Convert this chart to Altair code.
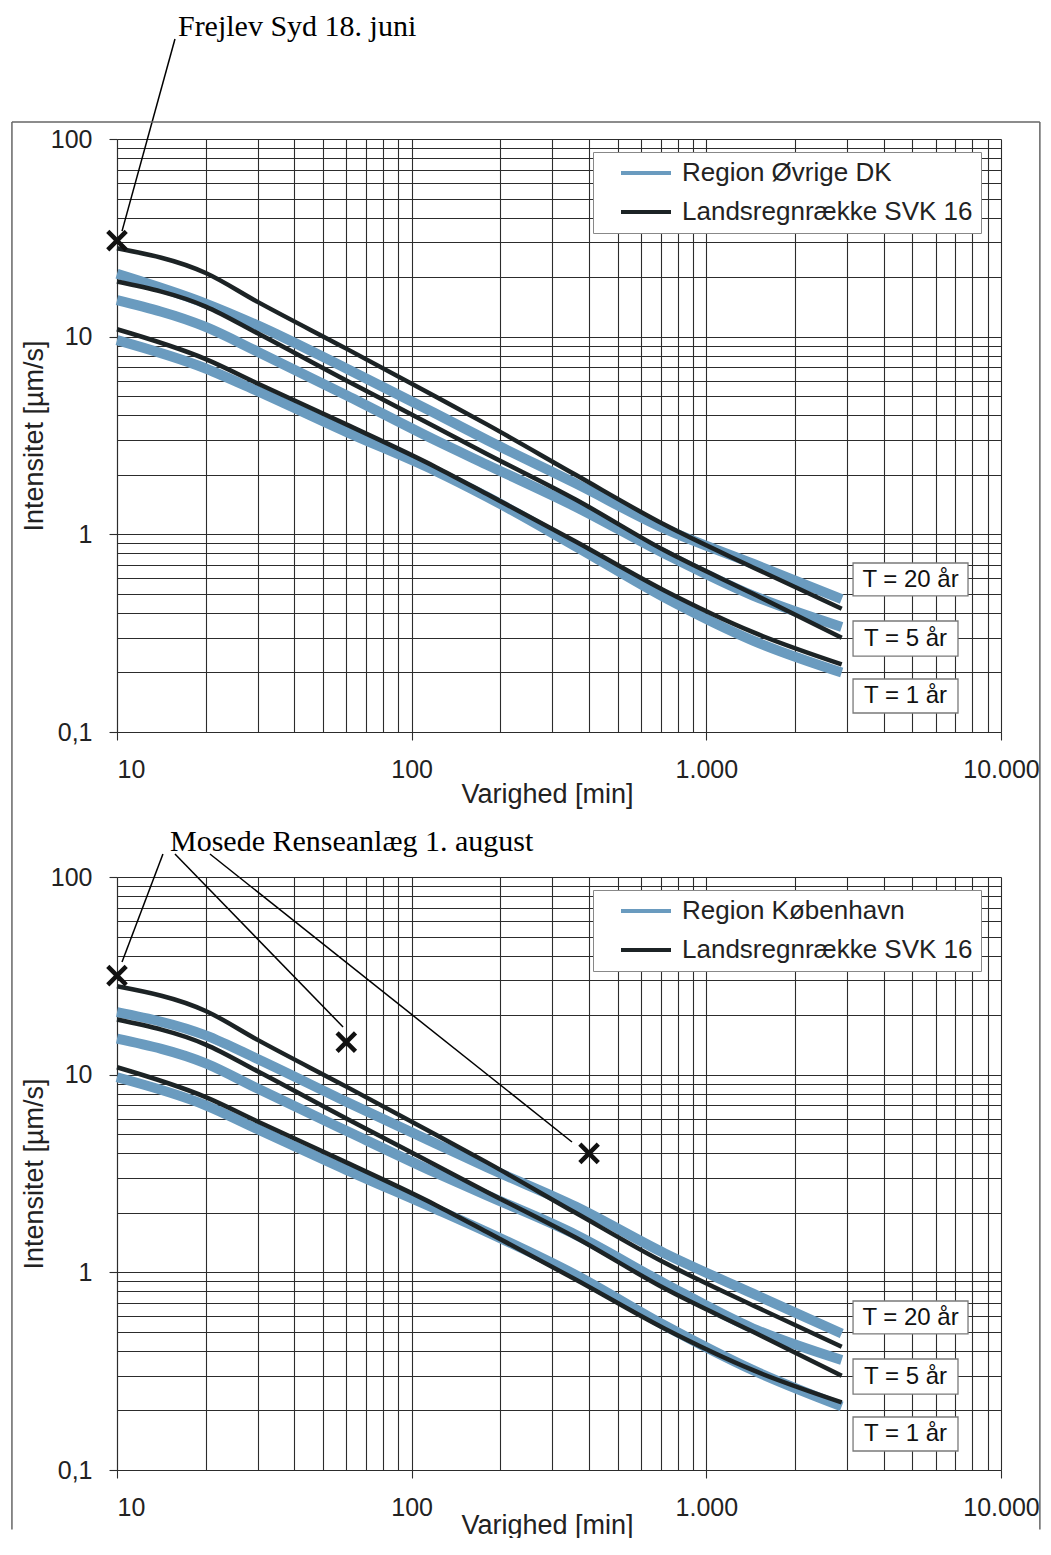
import altair as alt
import pandas as pd

# ---------------- data ----------------
durations = [10, 20, 30, 60, 120, 180, 360, 720, 1440, 2880]
return_periods = ["T = 20 år", "T = 5 år", "T = 1 år"]

SVK_NAME = "Landsregnrække SVK 16"
svk16 = {
    "T = 20 år": [28.0, 21.0, 15.0, 8.7, 5.0, 3.6, 2.0, 1.12, 0.68, 0.42],
    "T = 5 år": [19.0, 14.2, 10.4, 6.0, 3.5, 2.55, 1.5, 0.83, 0.50, 0.30],
    "T = 1 år": [10.9, 7.7, 5.8, 3.6, 2.2, 1.6, 0.92, 0.52, 0.32, 0.22],
}
region_ovrige = {
    "T = 20 år": [20.8, 14.7, 11.4, 6.9, 4.1, 3.0, 1.81, 1.07, 0.71, 0.47],
    "T = 5 år": [15.3, 11.2, 8.4, 5.06, 3.0, 2.25, 1.38, 0.80, 0.49, 0.34],
    "T = 1 år": [9.6, 6.9, 5.3, 3.3, 2.1, 1.55, 0.87, 0.48, 0.29, 0.20],
}
region_kbh = {
    "T = 20 år": [20.7, 15.8, 12.0, 7.3, 4.5, 3.4, 2.15, 1.25, 0.78, 0.49],
    "T = 5 år": [15.2, 11.4, 8.5, 5.2, 3.2, 2.45, 1.55, 0.88, 0.52, 0.36],
    "T = 1 år": [9.7, 7.0, 5.3, 3.3, 2.1, 1.6, 0.97, 0.54, 0.32, 0.21],
}

# observed events (X markers)
frejlev_mark_d = [10]
frejlev_mark_v = [30.6]
mosede_mark_d = [10, 60, 400]
mosede_mark_v = [31.7, 14.6, 4.0]

# annotation texts and their leader lines (data coordinates)
frejlev_note = ["Frejlev Syd 18. juni"]
frejlev_note_d = [16.1]
frejlev_note_v = [368.0]
frejlev_lead_d1 = [15.73]
frejlev_lead_v1 = [320.6]
frejlev_lead_d2 = [10.4]
frejlev_lead_v2 = [34.2]

mosede_note = ["Mosede Renseanlæg 1. august"]
mosede_note_d = [15.13]
mosede_note_v = [150.4]
mosede_lead_d1 = [14.32, 15.73, 20.68]
mosede_lead_v1 = [130.7, 130.7, 130.7]
mosede_lead_d2 = [10.4, 58.5, 350.0]
mosede_lead_v2 = [37.15, 17.43, 4.566]

# return-period label boxes
t_labels = ["T = 20 år", "T = 5 år", "T = 1 år"]
t_label_d = [4932, 4744, 4744]
t_label_v = [0.5905, 0.297, 0.152]
t_box_d1 = [3147, 3147, 3147]
t_box_d2 = [7728, 7146, 7146]
t_box_v1 = [0.716, 0.3644, 0.1854]
t_box_v2 = [0.488, 0.2423, 0.1248]

# surrounding frame (data coordinates of the border)
frame_left_d = 4.40
frame_right_d = 13550
frame_top_v = 121.9
frame_top_panel_bottom_v = 0.01846
frame_bottom_panel_top_v = 100
frame_bottom_panel_bottom_v = 0.05

# tick labels
x_tick_labels = {10: "10", 100: "100", 1000: "1.000", 10000: "10.000"}
y_tick_labels = {0.1: "0,1", 1: "1", 10: "10", 100: "100"}
x_grid_values = [round(m * 10 ** e, 6) for e in range(1, 4) for m in range(1, 10)] + [10000]
y_grid_values = [round(m * 10.0 ** e, 6) for e in range(-1, 2) for m in range(1, 10)] + [100]

# ---------------- styling ----------------
BLUE = "#6a9bbf"
BLACK = "#1c2325"
GRID = "#2c2c2c"
TXT = "#222222"
SANS = "Liberation Sans"
SERIF = "Liberation Serif"
X_PATH = "M-1,-1L1,1M-1,1L1,-1"
W, H = 884, 593

x_scale = alt.Scale(type="log", domain=[10, 10000], nice=False)
y_scale = alt.Scale(type="log", domain=[0.1, 100], nice=False)


def label_expr(mapping):
    parts = [f"datum.value == {k} ? '{v}'" for k, v in mapping.items()]
    return " : ".join(parts) + " : ''"


def decade_test(mapping):
    return " || ".join(f"datum.value == {k}" for k in mapping)


def make_x_axis(title_padding):
    return alt.Axis(
        values=x_grid_values, labelExpr=label_expr(x_tick_labels),
        grid=True, gridColor=GRID, gridWidth=1.1, gridOpacity=1,
        domain=True, domainColor=GRID, domainWidth=1.1,
        ticks=True, tickSize=8, tickColor=GRID, tickWidth=1.1,
        tickOpacity={"condition": {"test": decade_test(x_tick_labels), "value": 1}, "value": 0},
        labelFont=SANS, labelFontSize=25, labelColor=TXT, labelPadding=17,
        labelFlush=False, labelOverlap=False,
        labelAlign={"condition": {"test": "datum.value == 10", "value": "left"}, "value": "center"},
        title="Varighed [min]", titleFont=SANS, titleFontSize=27, titleFontWeight="normal",
        titleColor=TXT, titlePadding=title_padding, titleX=430,
    )


y_axis = alt.Axis(
    values=y_grid_values, labelExpr=label_expr(y_tick_labels),
    grid=True, gridColor=GRID, gridWidth=1.1, gridOpacity=1,
    domain=True, domainColor=GRID, domainWidth=1.1,
    ticks=True, tickSize=8, tickColor=GRID, tickWidth=1.1,
    tickOpacity={"condition": {"test": decade_test(y_tick_labels), "value": 1}, "value": 0},
    labelFont=SANS, labelFontSize=25, labelColor=TXT, labelPadding=17,
    labelFlush=False, labelOverlap=False,
    title="Intensitet [µm/s]", titleFont=SANS, titleFontSize=27, titleFontWeight="normal",
    titleColor=TXT, titlePadding=2,
)


def long_frame(series, name):
    rows = []
    for t in return_periods:
        for d, v in zip(durations, series[t]):
            rows.append({"d": d, "v": v, "T": t, "serie": name})
    return pd.DataFrame(rows)


def panel(region_name, region_series, mark_d, mark_v, note, note_d, note_v,
          ld1, lv1, ld2, lv2, frame_top, frame_bottom, draw_top_line, x_title_padding):
    EX = alt.X("d:Q", scale=x_scale, axis=make_x_axis(x_title_padding))
    EY = alt.Y("v:Q", scale=y_scale, axis=y_axis)
    legend = alt.Legend(
        title=None, orient="none", legendX=476, legendY=13,
        symbolType="M-2.5,0L2.5,0", symbolSize=400, symbolStrokeWidth=4,
        symbolOffset=32, labelOffset=23, padding=8, rowPadding=13,
        labelFont=SANS, labelFontSize=26, labelColor=TXT, labelLimit=0,
        fillColor="white", strokeColor="#888888",
    )
    color = alt.Color("serie:N", scale=alt.Scale(domain=[region_name, SVK_NAME], range=[BLUE, BLACK]),
                      legend=legend)
    blue = alt.Chart(long_frame(region_series, region_name)).mark_line(
        strokeWidth=10, interpolate="monotone", strokeJoin="round"
    ).encode(x=EX, y=EY, color=color, detail="T:N")
    black = alt.Chart(long_frame(svk16, SVK_NAME)).mark_line(
        strokeWidth=4.5, interpolate="monotone", strokeJoin="round"
    ).encode(x=EX, y=EY, color=color, detail="T:N")

    leaders = alt.Chart(pd.DataFrame({"d": ld1, "v": lv1, "d2": ld2, "v2": lv2})).mark_rule(
        color="black", strokeWidth=1.5
    ).encode(x=EX, y=EY, x2="d2:Q", y2="v2:Q")

    marks = alt.Chart(pd.DataFrame({"d": mark_d, "v": mark_v})).mark_point(
        shape=X_PATH, size=340, strokeWidth=4.5, color="#111111", filled=False, opacity=1
    ).encode(x=EX, y=EY)

    boxes = alt.Chart(pd.DataFrame({"d": t_box_d1, "v": t_box_v1, "d2": t_box_d2, "v2": t_box_v2})).mark_rect(
        fill="white", stroke="#7a7a7a", strokeWidth=1.3
    ).encode(x=EX, y=EY, x2="d2:Q", y2="v2:Q")

    tlab = alt.Chart(pd.DataFrame({"d": t_label_d, "v": t_label_v, "label": t_labels})).mark_text(
        font=SANS, fontSize=24, color="#111111", align="center", baseline="middle"
    ).encode(x=EX, y=EY, text="label:N")

    note_layer = alt.Chart(pd.DataFrame({"d": note_d, "v": note_v, "label": note})).mark_text(
        font=SERIF, fontSize=30, color="black", align="left", baseline="middle"
    ).encode(x=EX, y=EY, text="label:N")

    fd = [frame_left_d, frame_right_d]
    fd2 = [frame_left_d, frame_right_d]
    fv1 = [frame_top, frame_top]
    fv2 = [frame_bottom, frame_bottom]
    if draw_top_line:
        fd.append(frame_left_d)
        fd2.append(frame_right_d)
        fv1.append(frame_top)
        fv2.append(frame_top)
    frame = alt.Chart(pd.DataFrame({"d": fd, "v": fv1, "d2": fd2, "v2": fv2})).mark_rule(
        color="#666666", strokeWidth=1.5
    ).encode(x=EX, y=EY, x2="d2:Q", y2="v2:Q")

    return alt.layer(blue, black, leaders, marks, boxes, tlab, note_layer, frame).properties(
        width=W, height=H
    )


top = panel("Region Øvrige DK", region_ovrige, frejlev_mark_d, frejlev_mark_v,
            frejlev_note, frejlev_note_d, frejlev_note_v,
            frejlev_lead_d1, frejlev_lead_v1, frejlev_lead_d2, frejlev_lead_v2,
            frame_top_v, frame_top_panel_bottom_v, True, -1)
bottom = panel("Region København", region_kbh, mosede_mark_d, mosede_mark_v,
               mosede_note, mosede_note_d, mosede_note_v,
               mosede_lead_d1, mosede_lead_v1, mosede_lead_d2, mosede_lead_v2,
               frame_bottom_panel_top_v, frame_bottom_panel_bottom_v, False, -8)

chart = alt.vconcat(top, bottom, spacing=145, bounds="flush").resolve_scale(
    color="independent"
).properties(
    padding={"left": 3, "top": 4, "right": 0, "bottom": 0},
    background="white",
).configure_view(stroke="transparent", strokeWidth=0)

chart.save("out.html", embed_options={"renderer": "svg", "actions": False})
